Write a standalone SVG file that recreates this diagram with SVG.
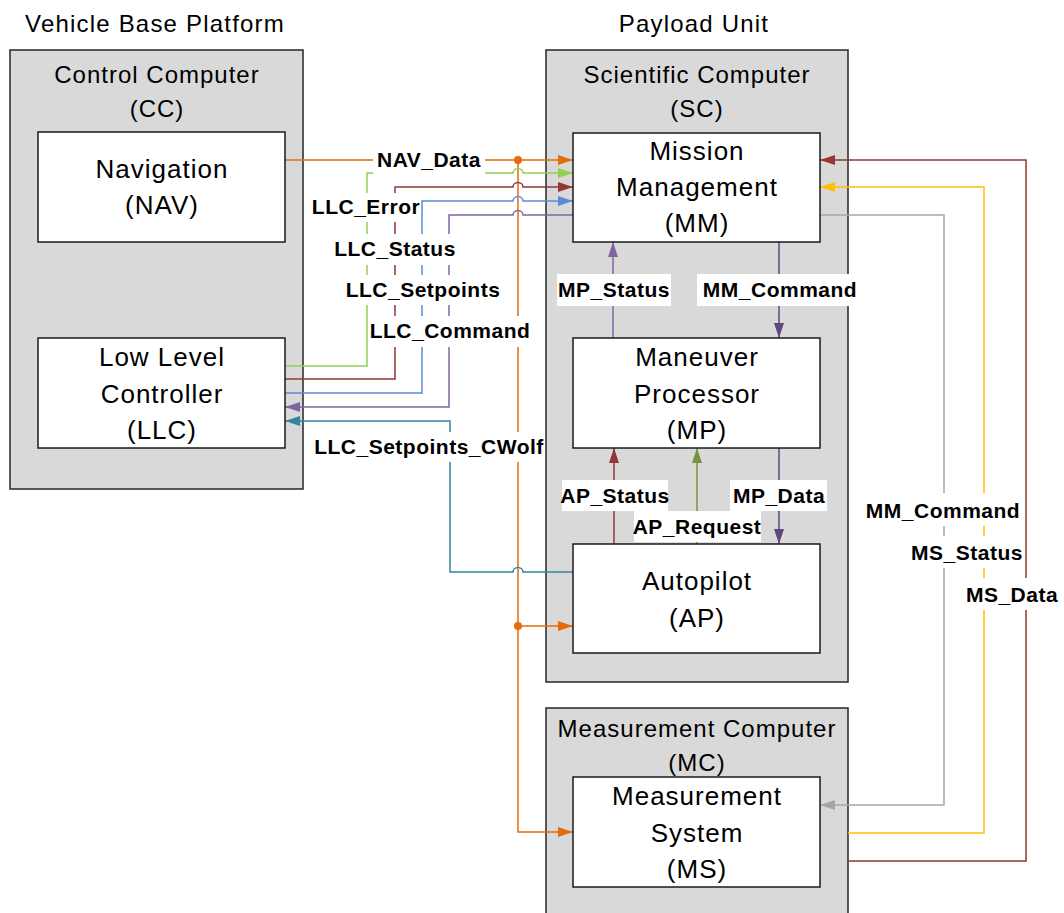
<svg xmlns="http://www.w3.org/2000/svg" width="1064" height="913" viewBox="0 0 1064 913">
<style>
.bg{fill:#ffffff}
.cont{fill:#d9d9d9;stroke:#262626;stroke-width:1.5}
.node{fill:#ffffff;stroke:#1a1a1a;stroke-width:1.5}
.head{font-family:"Liberation Sans",Arial,sans-serif;font-size:24px;letter-spacing:1.2px;fill:#000;text-anchor:middle}
.title{font-family:"Liberation Sans",Arial,sans-serif;font-size:24px;letter-spacing:1px;fill:#000;text-anchor:middle}
.nt{font-family:"Liberation Sans",Arial,sans-serif;font-size:26px;letter-spacing:1px;fill:#000;text-anchor:middle}
.lbl{font-family:"Liberation Sans",Arial,sans-serif;font-size:21px;font-weight:bold;letter-spacing:0.5px;fill:#000;text-anchor:middle}
.lb{fill:#ffffff}
.c{fill:none;stroke-width:1.5}
.or{stroke:#e46c0a}.gr{stroke:#92d050}.rd{stroke:#953735}.bl{stroke:#558ed5}.pu{stroke:#8064a2}
.te{stroke:#31859c}.dp{stroke:#5f497a}.ol{stroke:#77933c}.ye{stroke:#ffc000}.gy{stroke:#a6a6a6}
</style>
<defs>
<marker id="a-or" markerUnits="userSpaceOnUse" markerWidth="15" markerHeight="10" refX="15" refY="5" orient="auto"><path d="M0,0 L15,5 L0,10 z" fill="#e46c0a"/></marker>
<marker id="a-gr" markerUnits="userSpaceOnUse" markerWidth="15" markerHeight="10" refX="15" refY="5" orient="auto"><path d="M0,0 L15,5 L0,10 z" fill="#92d050"/></marker>
<marker id="a-rd" markerUnits="userSpaceOnUse" markerWidth="15" markerHeight="10" refX="15" refY="5" orient="auto"><path d="M0,0 L15,5 L0,10 z" fill="#953735"/></marker>
<marker id="a-bl" markerUnits="userSpaceOnUse" markerWidth="15" markerHeight="10" refX="15" refY="5" orient="auto"><path d="M0,0 L15,5 L0,10 z" fill="#558ed5"/></marker>
<marker id="a-pu" markerUnits="userSpaceOnUse" markerWidth="15" markerHeight="10" refX="15" refY="5" orient="auto"><path d="M0,0 L15,5 L0,10 z" fill="#8064a2"/></marker>
<marker id="a-te" markerUnits="userSpaceOnUse" markerWidth="15" markerHeight="10" refX="15" refY="5" orient="auto"><path d="M0,0 L15,5 L0,10 z" fill="#31859c"/></marker>
<marker id="a-dp" markerUnits="userSpaceOnUse" markerWidth="15" markerHeight="10" refX="15" refY="5" orient="auto"><path d="M0,0 L15,5 L0,10 z" fill="#5f497a"/></marker>
<marker id="a-ol" markerUnits="userSpaceOnUse" markerWidth="15" markerHeight="10" refX="15" refY="5" orient="auto"><path d="M0,0 L15,5 L0,10 z" fill="#77933c"/></marker>
<marker id="a-ye" markerUnits="userSpaceOnUse" markerWidth="15" markerHeight="10" refX="15" refY="5" orient="auto"><path d="M0,0 L15,5 L0,10 z" fill="#ffc000"/></marker>
<marker id="a-gy" markerUnits="userSpaceOnUse" markerWidth="15" markerHeight="10" refX="15" refY="5" orient="auto"><path d="M0,0 L15,5 L0,10 z" fill="#a6a6a6"/></marker>
</defs>
<rect class="bg" x="0" y="0" width="1064" height="913"/>

<g id="headings">
<text class="head" x="155" y="32">Vehicle Base Platform</text>
<text class="head" x="694" y="32">Payload Unit</text>
</g>

<g id="CC">
<rect class="cont" x="10" y="50" width="293" height="439"/>
<text class="title" x="157" y="83">Control Computer</text>
<text class="title" x="157" y="117">(CC)</text>
</g>
<g id="SC">
<rect class="cont" x="546" y="50" width="302" height="632"/>
<text class="title" x="697" y="83">Scientific Computer</text>
<text class="title" x="697" y="117">(SC)</text>
</g>
<g id="MC">
<rect class="cont" x="546" y="708" width="302" height="215"/>
<text class="title" x="697" y="737">Measurement Computer</text>
<text class="title" x="697" y="771">(MC)</text>
</g>

<g id="connectors">
<path class="c or" d="M285,160 H573" marker-end="url(#a-or)"/>
<path class="c or" d="M518,160 V832 H573" marker-end="url(#a-or)"/>
<path class="c or" d="M518,626 H573" marker-end="url(#a-or)"/>
<circle cx="518" cy="160" r="4" fill="#e46c0a"/>
<circle cx="518" cy="626" r="4" fill="#e46c0a"/>
<path class="c gr" d="M285,366 H367 V173 H513 A5 4.5 0 0 1 523,173 H573" marker-end="url(#a-gr)"/>
<path class="c rd" d="M285,379 H395 V187 H513 A5 4.5 0 0 1 523,187 H573" marker-end="url(#a-rd)"/>
<path class="c bl" d="M285,393 H422 V201 H513 A5 4.5 0 0 1 523,201 H573" marker-end="url(#a-bl)"/>
<path class="c pu" d="M573,215 H523 A5 4.5 0 0 0 513,215 H449 V407 H285" marker-end="url(#a-pu)"/>
<path class="c te" d="M573,572 H523 A5 4.5 0 0 0 513,572 H450 V421 H285" marker-end="url(#a-te)"/>
<path class="c pu" d="M613,338 V242" marker-end="url(#a-pu)"/>
<path class="c dp" d="M779,242 V338" marker-end="url(#a-dp)"/>
<path class="c rd" d="M614,544 V448" marker-end="url(#a-rd)"/>
<path class="c ol" d="M697,544 V448" marker-end="url(#a-ol)"/>
<path class="c dp" d="M779,448 V544" marker-end="url(#a-dp)"/>
<path class="c rd" d="M848,861 H1026 V160 H820" marker-end="url(#a-rd)"/>
<path class="c ye" d="M848,833 H984 V187 H820" marker-end="url(#a-ye)"/>
<path class="c gy" d="M820,215 H944 V805 H820" marker-end="url(#a-gy)"/>

<rect class="lb" x="373" y="147" width="112" height="28"/>
<text class="lbl" x="429" y="167">NAV_Data</text>
<rect class="lb" x="314" y="193" width="105" height="29"/>
<text class="lbl" x="366" y="214">LLC_Error</text>
<rect class="lb" x="336" y="234" width="117" height="31"/>
<text class="lbl" x="395" y="256">LLC_Status</text>
<rect class="lb" x="348" y="275" width="150" height="30"/>
<text class="lbl" x="423" y="297">LLC_Setpoints</text>
<rect class="lb" x="370" y="316" width="159" height="31"/>
<text class="lbl" x="450" y="338">LLC_Command</text>
<rect class="lb" x="315" y="432" width="228" height="30"/>
<text class="lbl" x="429" y="454">LLC_Setpoints_CWolf</text>
<rect class="lb" x="557" y="274" width="114" height="32"/>
<text class="lbl" x="614" y="297">MP_Status</text>
<rect class="lb" x="697" y="274" width="165" height="32"/>
<text class="lbl" x="780" y="297">MM_Command</text>
<rect class="lb" x="562" y="480" width="106" height="31"/>
<text class="lbl" x="615" y="503">AP_Status</text>
<rect class="lb" x="634" y="511" width="127" height="31"/>
<text class="lbl" x="697" y="534">AP_Request</text>
<rect class="lb" x="730" y="480" width="97" height="31"/>
<text class="lbl" x="779" y="503">MP_Data</text>
<rect class="lb" x="860" y="493" width="165" height="33"/>
<text class="lbl" x="943" y="518">MM_Command</text>
<rect class="lb" x="908" y="536" width="117" height="32"/>
<text class="lbl" x="967" y="560">MS_Status</text>
<rect class="lb" x="963" y="578" width="98" height="32"/>
<text class="lbl" x="1012" y="602">MS_Data</text>
</g>

<g id="NAV">
<rect class="node" x="38" y="132" width="247" height="110"/>
<text class="nt" x="162" y="178">Navigation</text>
<text class="nt" x="162" y="214">(NAV)</text>
</g>
<g id="LLC">
<rect class="node" x="38" y="338" width="247" height="110"/>
<text class="nt" x="162" y="366">Low Level</text>
<text class="nt" x="162" y="403">Controller</text>
<text class="nt" x="162" y="439">(LLC)</text>
</g>
<g id="MM">
<rect class="node" x="573" y="133" width="247" height="109"/>
<text class="nt" x="697" y="160">Mission</text>
<text class="nt" x="697" y="196">Management</text>
<text class="nt" x="697" y="232">(MM)</text>
</g>
<g id="MP">
<rect class="node" x="573" y="338" width="247" height="110"/>
<text class="nt" x="697" y="366">Maneuver</text>
<text class="nt" x="697" y="403">Processor</text>
<text class="nt" x="697" y="439">(MP)</text>
</g>
<g id="AP">
<rect class="node" x="573" y="544" width="247" height="109"/>
<text class="nt" x="697" y="590">Autopilot</text>
<text class="nt" x="697" y="627">(AP)</text>
</g>
<g id="MS">
<rect class="node" x="573" y="777" width="247" height="110"/>
<text class="nt" x="697" y="805">Measurement</text>
<text class="nt" x="697" y="842">System</text>
<text class="nt" x="697" y="878">(MS)</text>
</g>
</svg>
